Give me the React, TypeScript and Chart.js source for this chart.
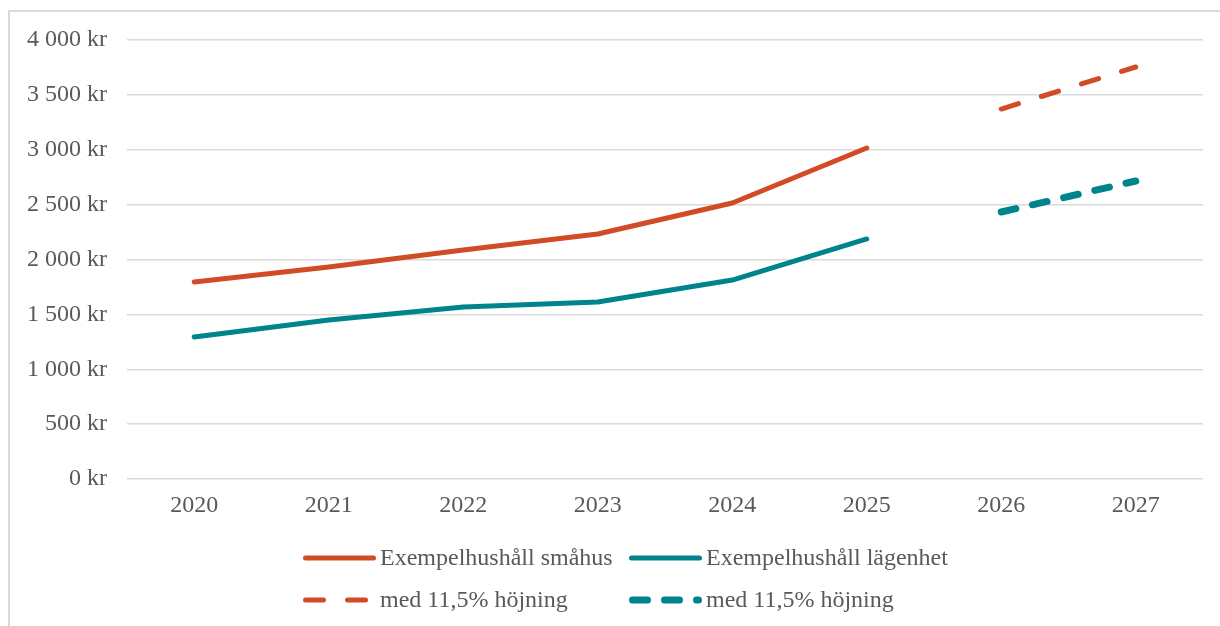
import React, { useEffect, useRef } from "react";
import { Chart, registerables } from "chart.js";

Chart.register(...registerables);

const years = ["2020", "2021", "2022", "2023", "2024", "2025", "2026", "2027"];
const smahus = [1795, 1932, 2087, 2232, 2515, 3016, null, null];
const lagenhet = [1294, 1449, 1567, 1613, 1813, 2187, null, null];
const smahusHojning = [null, null, null, null, null, null, 3371, 3754];
const lagenhetHojning = [null, null, null, null, null, null, 2433, 2715];

const labelSmahus = "Exempelhushåll småhus";
const labelLagenhet = "Exempelhushåll lägenhet";
const labelHojning = "med 11,5% höjning";

const RED = "#D24B27";
const TEAL = "#00848B";
const TEXT = "#595959";
const GRID = "#D9D9D9";
const FONT = "'Liberation Serif', 'Times New Roman', serif";

const RED_DASH = [18, 24];
const TEAL_DASH = [15, 17];

const fmt = (v: number) =>
  String(v).replace(/\B(?=(\d{3})+(?!\d))/g, " ") + " kr";

const decorPlugin = {
  id: "decor",
  beforeDraw(chart: any) {
    const ctx = chart.ctx;
    ctx.save();
    ctx.fillStyle = "#ffffff";
    ctx.fillRect(0, 0, chart.width, chart.height);
    ctx.strokeStyle = GRID;
    ctx.lineWidth = 2;
    ctx.strokeRect(9, 11, chart.width + 40, chart.height + 40);
    ctx.restore();
  },
  afterDraw(chart: any) {
    const ctx = chart.ctx;
    ctx.save();
    ctx.font = `24px ${FONT}`;
    ctx.fillStyle = TEXT;
    ctx.textBaseline = "middle";
    ctx.textAlign = "left";
    const items = [
      { x: 303, y: 558, color: RED, dash: [] as number[], w: 5, label: labelSmahus },
      { x: 629, y: 558, color: TEAL, dash: [] as number[], w: 5, label: labelLagenhet },
      { x: 303, y: 600, color: RED, dash: RED_DASH, w: 5, label: labelHojning },
      { x: 629, y: 600, color: TEAL, dash: TEAL_DASH, w: 7, label: labelHojning },
    ];
    for (const it of items) {
      ctx.save();
      ctx.strokeStyle = it.color;
      ctx.lineWidth = it.w;
      ctx.lineCap = "round";
      ctx.setLineDash(it.dash);
      ctx.beginPath();
      ctx.moveTo(it.x + it.w / 2, it.y);
      ctx.lineTo(it.x + 73 - it.w / 2, it.y);
      ctx.stroke();
      ctx.restore();
      ctx.fillText(it.label, it.x + 77, it.y + 1);
    }
    ctx.restore();
  },
};

export default function App() {
  const ref = useRef<HTMLCanvasElement | null>(null);
  useEffect(() => {
    document.body.style.margin = "0";
    const canvas = ref.current!;
    const chart = new Chart(canvas, {
      type: "line",
      data: {
        labels: years,
        datasets: [
          {
            label: labelSmahus,
            data: smahus,
            borderColor: RED,
            backgroundColor: RED,
            borderWidth: 5,
            pointRadius: 0,
            borderCapStyle: "round",
            borderJoinStyle: "round",
          },
          {
            label: labelLagenhet,
            data: lagenhet,
            borderColor: TEAL,
            backgroundColor: TEAL,
            borderWidth: 5,
            pointRadius: 0,
            borderCapStyle: "round",
            borderJoinStyle: "round",
          },
          {
            label: labelHojning,
            data: smahusHojning,
            borderColor: RED,
            backgroundColor: RED,
            borderWidth: 5,
            borderDash: RED_DASH,
            pointRadius: 0,
            borderCapStyle: "round",
          },
          {
            label: labelHojning,
            data: lagenhetHojning,
            borderColor: TEAL,
            backgroundColor: TEAL,
            borderWidth: 7,
            borderDash: TEAL_DASH,
            pointRadius: 0,
            borderCapStyle: "round",
          },
        ],
      },
      options: {
        responsive: false,
        animation: false,
        devicePixelRatio: 1,
        layout: { padding: { top: 40, right: 17, bottom: 97, left: 0 } },
        plugins: { legend: { display: false }, tooltip: { enabled: false } },
        scales: {
          x: {
            offset: true,
            grid: { display: false, drawTicks: false, offset: true },
            border: { display: false },
            ticks: {
              color: TEXT,
              font: { family: FONT, size: 24 },
              padding: 12,
              maxRotation: 0,
            },
            afterFit(scale: any) {
              scale.height = 50;
            },
          },
          y: {
            min: 0,
            max: 4000,
            grid: { color: GRID, lineWidth: 1.5, drawTicks: false },
            border: { display: false },
            ticks: {
              stepSize: 500,
              color: TEXT,
              font: { family: FONT, size: 24 },
              padding: 20,
              callback: (v: any) => fmt(Number(v)),
            },
            afterFit(scale: any) {
              scale.width = 127;
            },
          },
        },
      },
      plugins: [decorPlugin],
    } as any);
    return () => chart.destroy();
  }, []);
  return (
    <canvas
      ref={ref}
      width={1220}
      height={626}
      style={{ display: "block", width: 1220, height: 626 }}
    />
  );
}
